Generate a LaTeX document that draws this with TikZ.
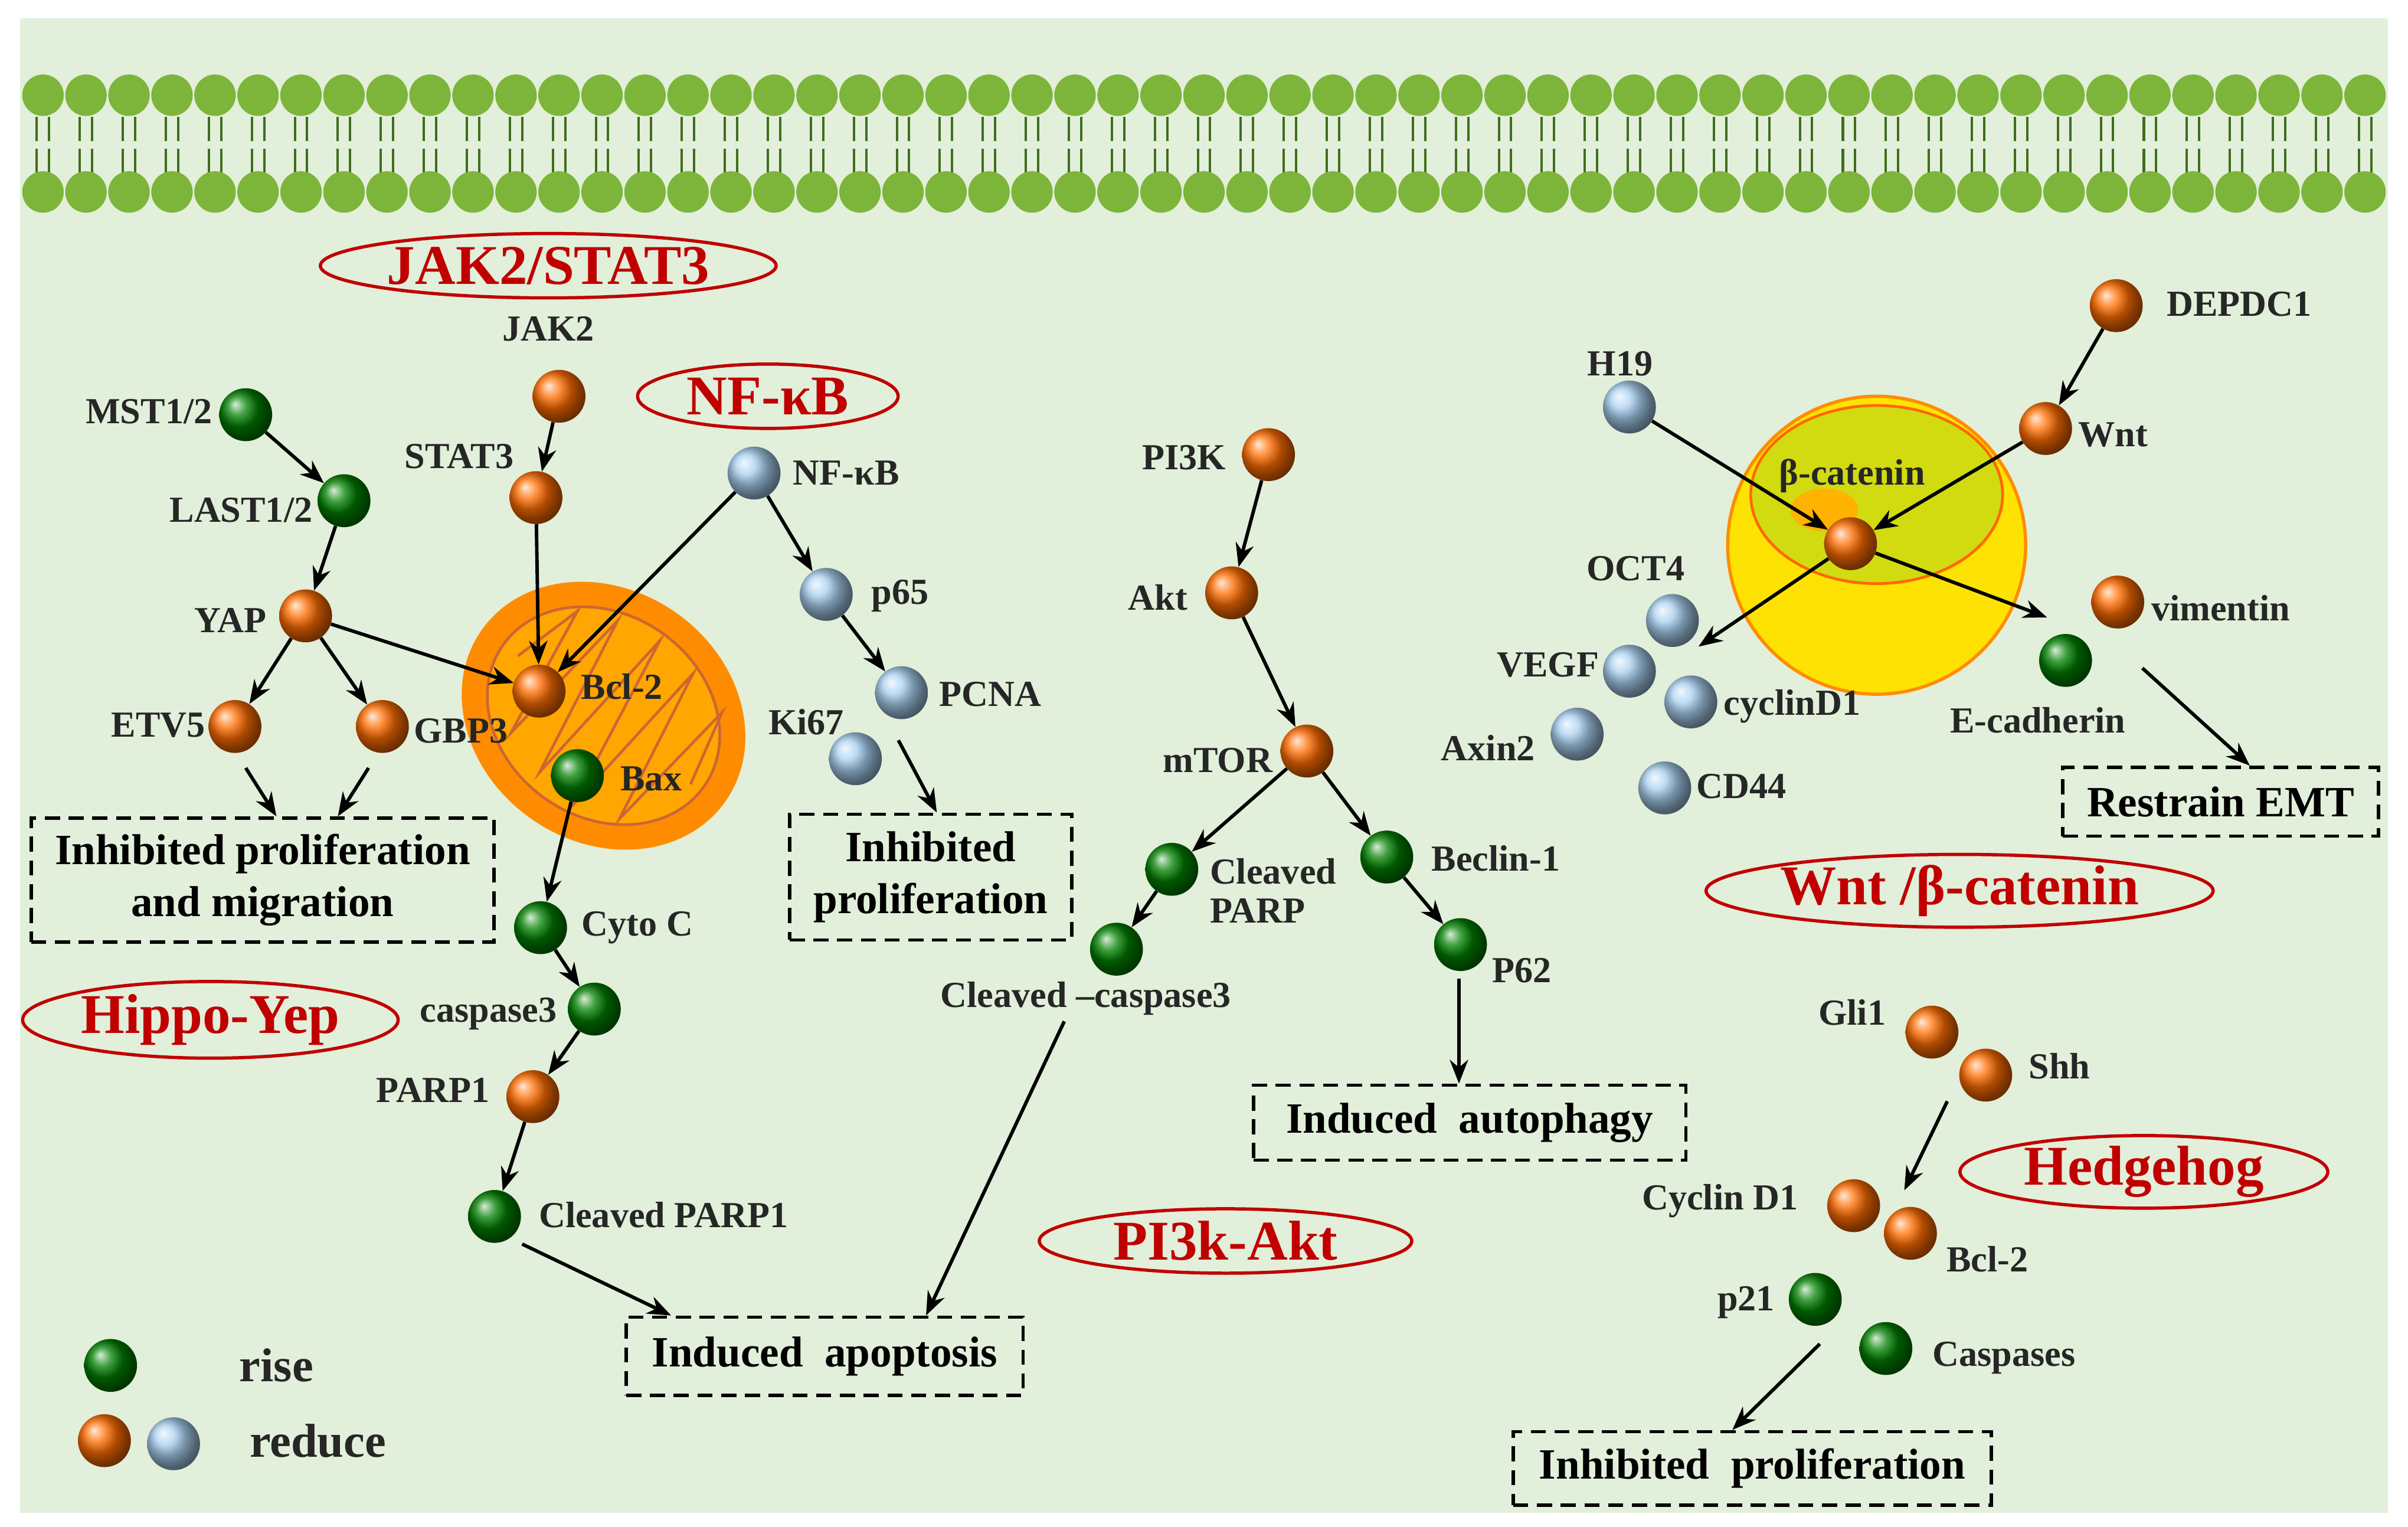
\documentclass[tikz,border=0pt]{standalone}
\usepackage{fontspec}
\setmainfont{Liberation Serif}
\usetikzlibrary{arrows.meta,shapes.geometric}
\definecolor{bg}{HTML}{E2EFDA}
\definecolor{mem}{HTML}{7DB53A}
\definecolor{memd}{HTML}{3F6E1E}
\definecolor{tr}{HTML}{C00000}
\definecolor{sky}{HTML}{A8D0F0}
\begin{document}
\begin{tikzpicture}[x=0.05cm,y=-0.05cm,
 gball/.style={circle,minimum size=49pt,inner sep=0,shading=ball,ball color=green!50!black},
 oball/.style={circle,minimum size=49pt,inner sep=0,shading=ball,ball color=orange!85!red},
 bball/.style={circle,minimum size=49pt,inner sep=0,shading=ball,ball color=sky},
 lab/.style={font=\fontsize{34}{36}\selectfont\bfseries,text=black!85,inner sep=0},
 box/.style={draw,dashed,line width=3pt,dash pattern=on 14pt off 8pt,font=\fontsize{40}{48}\selectfont\bfseries,align=center,inner sep=0},
 title/.style={ellipse,draw=tr,line width=3pt,fill=bg,text=tr,font=\fontsize{52}{54}\selectfont\bfseries,inner sep=0},
 arr/.style={-{Stealth[length=22pt,width=17pt]},line width=3.2pt}]
\useasboundingbox (0,0) rectangle (1568,994);
\fill[white] (0,0) rectangle (1568,994);
\fill[bg] (13,12) rectangle (1555,985);
% membrane
\foreach \x in {28,56,...,1540}{
 \draw[memd,line width=2.2pt] (\x-4,76)--(\x-4,92) (\x+4,76)--(\x+4,92) (\x-4,97)--(\x-4,113) (\x+4,97)--(\x+4,113);
 \fill[mem] (\x,62) circle (13.5);
 \fill[mem] (\x,125) circle (13.5);}
% organelles
\fill[orange!90!yellow] (393,466) ellipse [x radius=97,y radius=82,rotate=-35];
\fill[orange!70!yellow] (393,466) ellipse [x radius=80,y radius=66,rotate=-35];
\draw[brown!80!red,line width=2.5pt,rotate around={-35:(393,466)}] (393,466) ellipse [x radius=80,y radius=66];
\draw[brown!80!red,line width=2.5pt,rotate around={-35:(393,466)}]
 (325,466) -- (340,420) -- (350,510) -- (365,410) -- (380,520) -- (395,405) -- (410,525) -- (425,410) -- (440,515) -- (455,420) -- (465,470);
\fill[yellow!85!orange] (1222,355) circle (97);
\draw[orange!90!yellow,line width=3pt] (1222,355) circle (97);
\fill[yellow!80!green!90!orange] (1222,322) ellipse [x radius=82,y radius=58];
\draw[orange!80!red,line width=2.5pt] (1222,322) ellipse [x radius=82,y radius=58];
\fill[orange!60!yellow] (1188,332) ellipse [x radius=22,y radius=14];
% titles
\node[title,minimum width=270*1.42pt,minimum height=42*1.42pt] (tjak) at (357,173) {JAK2/STAT3};
\node[title,minimum width=170*1.42pt,minimum height=42*1.42pt] (tnf) at (500,258) {NF-κB};
\node[title,minimum width=245*1.42pt,minimum height=50*1.42pt] (thip) at (137,664) {Hippo-Yep};
\node[title,minimum width=243*1.42pt,minimum height=42*1.42pt] (tpi) at (798,808) {PI3k-Akt};
\node[title,minimum width=296*1.42pt,minimum height=42*1.42pt] (twnt) at (1276,580) {Wnt /β-catenin};
\node[title,minimum width=240*1.42pt,minimum height=44*1.42pt] (thh) at (1396,763) {Hedgehog};
% boxes
\node[box,minimum width=302*1.42pt,minimum height=81*1.42pt] (b1) at (171,573) {Inhibited proliferation\\and migration};
\node[box,minimum width=184*1.42pt,minimum height=82*1.42pt] (b2) at (606,571) {Inhibited\\proliferation};
\node[box,minimum width=259*1.42pt,minimum height=51*1.42pt] (b3) at (537,883) {Induced~ apoptosis};
\node[box,minimum width=282*1.42pt,minimum height=49*1.42pt] (b4) at (957,731) {Induced~ autophagy};
\node[box,minimum width=206*1.42pt,minimum height=45*1.42pt] (b5) at (1446,522) {Restrain EMT};
\node[box,minimum width=312*1.42pt,minimum height=48*1.42pt] (b6) at (1141,956) {Inhibited~ proliferation};
% balls and labels
\node[gball] (mst) at (160,270) {}; \node[lab] (lmst) at (97,268) {MST1/2};
\node[gball] (last) at (224,326) {}; \node[lab] (llast) at (157,332) {LAST1/2};
\node[oball] (yap) at (199,401) {}; \node[lab] (lyap) at (150,404) {YAP};
\node[oball] (etv) at (153,473) {}; \node[lab] (letv) at (103,472) {ETV5};
\node[oball] (gbp) at (249,473) {}; \node[lab] (lgbp) at (300,476) {GBP3};
\node[lab] (ljak) at (357,214) {JAK2}; \node[oball] (jak) at (364,258) {};
\node[lab] (lstat) at (299,297) {STAT3}; \node[oball] (stat) at (349,324) {};
\node[bball] (nf) at (491,308) {}; \node[lab] (lnf) at (551,308) {NF-κB};
\node[bball] (p65) at (538,387) {}; \node[lab] (lp65) at (586,388) {p65};
\node[bball] (pcna) at (587,451) {}; \node[lab] (lpcna) at (645,452) {PCNA};
\node[lab] (lki) at (525,470) {Ki67}; \node[bball] (ki) at (557,494) {};
\node[oball] (bcl) at (351,450) {}; \node[lab] (lbcl) at (405,447) {Bcl-2};
\node[gball] (bax) at (376,505) {}; \node[lab] (lbax) at (424,507) {Bax};
\node[gball] (cyto) at (352,604) {}; \node[lab] (lcyto) at (415,604) {Cyto C};
\node[gball] (cas) at (387,657) {}; \node[lab] (lcas) at (318,660) {caspase3};
\node[oball] (parp) at (347,714) {}; \node[lab] (lparp) at (282,710) {PARP1};
\node[gball] (cparp) at (322,792) {}; \node[lab] (lcparp) at (432,791) {Cleaved PARP1};
\node[lab] (lpi) at (771,298) {PI3K}; \node[oball] (pi) at (826,296) {};
\node[lab] (lakt) at (754,389) {Akt}; \node[oball] (akt) at (802,386) {};
\node[oball] (mtor) at (851,489) {}; \node[lab] (lmtor) at (793,495) {mTOR};
\node[gball] (clp) at (763,566) {}; \node[lab,align=left] (lclp) at (829,580) {Cleaved\\PARP};
\node[gball] (clc) at (727,618) {}; \node[lab] (lclc) at (707,650) {Cleaved –caspase3};
\node[gball] (bec) at (903,558) {}; \node[lab] (lbec) at (974,559) {Beclin-1};
\node[gball] (p62) at (951,615) {}; \node[lab] (lp62) at (991,632) {P62};
\node[oball] (dep) at (1378,199) {}; \node[lab] (ldep) at (1458,198) {DEPDC1};
\node[oball] (wnt) at (1332,279) {}; \node[lab] (lwnt) at (1376,283) {Wnt};
\node[lab] (lh19) at (1055,237) {H19}; \node[bball] (h19) at (1061,265) {};
\node[lab] (lbcat) at (1206,310) {β-catenin}; \node[oball] (bcat) at (1205,354) {};
\node[lab] (loct) at (1065,370) {OCT4}; \node[bball] (oct) at (1089,404) {};
\node[lab] (lveg) at (1008,433) {VEGF}; \node[bball] (veg) at (1061,437) {};
\node[bball] (cyc) at (1101,457) {}; \node[lab] (lcyc) at (1167,460) {cyclinD1};
\node[lab] (lax) at (969,487) {Axin2}; \node[bball] (ax) at (1027,478) {};
\node[bball] (cd) at (1084,513) {}; \node[lab] (lcd) at (1134,512) {CD44};
\node[oball] (vim) at (1379,392) {}; \node[lab] (lvim) at (1446,396) {vimentin};
\node[gball] (ecad) at (1345,430) {}; \node[lab] (lecad) at (1327,469) {E-cadherin};
\node[lab] (lgli) at (1206,659) {Gli1}; \node[oball] (gli) at (1258,672) {};
\node[oball] (shh) at (1293,700) {}; \node[lab] (lshh) at (1341,694) {Shh};
\node[lab] (lcd1) at (1120,782) {Cyclin D1}; \node[oball] (cd1) at (1207,785) {};
\node[oball] (bcl2) at (1244,803) {}; \node[lab] (lbcl2) at (1294,820) {Bcl-2};
\node[lab] (lp21) at (1137,848) {p21}; \node[gball] (p21) at (1182,846) {};
\node[gball] (casp) at (1228,878) {}; \node[lab] (lcasp) at (1305,884) {Caspases};
% legend
\node[gball] (lg1) at (72,889) {}; \node[lab,font=\fontsize{44}{46}\selectfont\bfseries] (lrise) at (180,889) {rise};
\node[oball] (lg2) at (68,938) {}; \node[bball] (lg3) at (113,940) {};
\node[lab,font=\fontsize{44}{46}\selectfont\bfseries] (lred) at (207,938) {reduce};
% free-end coordinates
\coordinate (e1) at (160,500); \coordinate (e2) at (240,500);
\coordinate (k1) at (585,482); \coordinate (w1) at (1395,435);
\coordinate (h1) at (1268,717); \coordinate (h2) at (1240,775);
\coordinate (h3) at (1185,875); \coordinate (a1) at (340,810);
\coordinate (a2) at (693,665); \coordinate (q1) at (950,637);
\coordinate (wb) at (1106,421); \coordinate (wr) at (1333,402);
% connectors
\draw[arr] (mst)--(last); \draw[arr] (last)--(yap);
\draw[arr] (yap)--(etv); \draw[arr] (yap)--(gbp); \draw[arr] (yap)--(bcl);
\draw[arr] (e1)--(b1.north -| 180,0); \draw[arr] (e2)--(b1.north -| 220,0);
\draw[arr] (jak)--(stat); \draw[arr] (stat)--(bcl); \draw[arr] (nf)--(bcl);
\draw[arr] (nf)--(p65); \draw[arr] (p65)--(pcna); \draw[arr] (k1)--(b2.north -| 610,0);
\draw[arr] (bax)--(cyto); \draw[arr] (cyto)--(cas); \draw[arr] (cas)--(parp); \draw[arr] (parp)--(cparp);
\draw[arr] (a1)--(b3.north -| 437,0); \draw[arr] (a2)--(b3.north -| 603,0);
\draw[arr] (pi)--(akt); \draw[arr] (akt)--(mtor); \draw[arr] (mtor)--(clp); \draw[arr] (mtor)--(bec);
\draw[arr] (clp)--(clc); \draw[arr] (bec)--(p62); \draw[arr] (q1)--(b4.north -| 950,0);
\draw[arr] (dep)--(wnt); \draw[arr] (wnt)--(bcat); \draw[arr] (h19)--(bcat);
\draw[arr] (bcat)--(wb); \draw[arr] (bcat)--(wr); \draw[arr] (w1)--(b5.north -| 1465,0);
\draw[arr] (h1)--(h2); \draw[arr] (h3)--(b6.north -| 1128,0);
\end{tikzpicture}
\end{document}
